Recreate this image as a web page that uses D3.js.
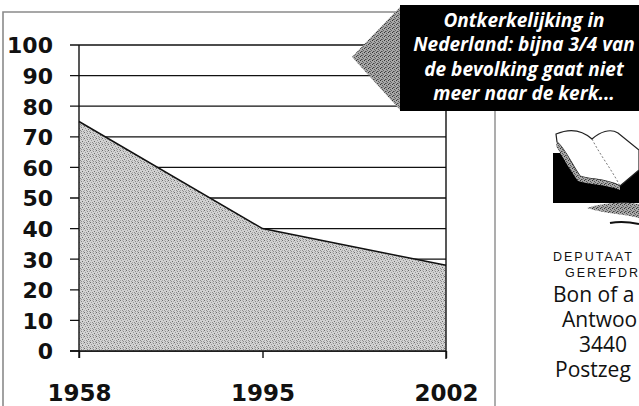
<!DOCTYPE html>
<html>
<head>
<meta charset="utf-8">
<script src="https://cdn.jsdelivr.net/npm/d3@7"></script>
<style>
  html, body { margin: 0; padding: 0; background: #fff; }
  svg { display: block; }
</style>
</head>
<body>
<svg id="chart" width="639" height="406"></svg>
<script>
// ---- data ----
const years = ["1958", "1995", "2002"];
const values = [75, 40, 28];
const yTicks = [0, 10, 20, 30, 40, 50, 60, 70, 80, 90, 100];
const calloutLines = ["Ontkerkelijking in", "Nederland: bijna 3/4 van", "de bevolking gaat niet", "meer naar de kerk..."];
const sideSmall = ["DEPUTAAT", "GEREFDR"];
const sideLarge = ["Bon of a", "Antwoo", "3440", "Postzeg"];

const svg = d3.select("#chart");
const defs = svg.append("defs");

// halftone patterns (fixed dot layout)
const p1 = defs.append("pattern").attr("id", "tone").attr("width", 6).attr("height", 6)
  .attr("patternUnits", "userSpaceOnUse");
p1.append("rect").attr("width", 6).attr("height", 6).attr("fill", "#d2d2d2");
[[0,0,"#6a6a6a"],[3,1,"#888"],[1,2,"#999"],[4,3,"#6a6a6a"],[2,4,"#8a8a8a"],[5,5,"#999"],[0,4,"#aaa"],[5,1,"#aaa"],[2,0,"#b0b0b0"],[3,5,"#909090"]].forEach(d =>
  p1.append("rect").attr("x", d[0]).attr("y", d[1]).attr("width", 1).attr("height", 1).attr("fill", d[2]));

const p2 = defs.append("pattern").attr("id", "tone2").attr("width", 4).attr("height", 4)
  .attr("patternUnits", "userSpaceOnUse");
p2.append("rect").attr("width", 4).attr("height", 4).attr("fill", "#a8a8a8");
[[0,0,"#333"],[2,1,"#555"],[1,3,"#444"],[3,2,"#666"],[2,3,"#777"]].forEach(d =>
  p2.append("rect").attr("x", d[0]).attr("y", d[1]).attr("width", 1).attr("height", 1).attr("fill", d[2]));

// ---- scales ----
const x = d3.scalePoint().domain(years).range([79, 446]);
const y = d3.scaleLinear().domain([0, 100]).range([351, 45]);

// outer frame
svg.append("path").attr("d", "M3,406 L3,12 L402,12")
  .attr("fill", "none").attr("stroke", "#8a8a8a").attr("stroke-width", 1.6);
// separator
svg.append("line").attr("x1", 495).attr("x2", 495).attr("y1", 108).attr("y2", 406)
  .attr("stroke", "#8a8a8a").attr("stroke-width", 1.4);

// gridlines
svg.append("g").selectAll("line").data(yTicks).join("line")
  .attr("x1", 70).attr("x2", x("2002"))
  .attr("y1", d => y(d)).attr("y2", d => y(d))
  .attr("stroke", "#111").attr("stroke-width", 1.3);

// area
const data = years.map((yr, i) => ({ yr, v: values[i] }));
svg.append("path").datum(data)
  .attr("d", d3.area().x(d => x(d.yr)).y0(y(0)).y1(d => y(d.v)))
  .attr("fill", "url(#tone)");
svg.append("path").datum(data)
  .attr("d", d3.line().x(d => x(d.yr)).y(d => y(d.v)))
  .attr("fill", "none").attr("stroke", "#111").attr("stroke-width", 1.5);
// baseline
svg.append("line").attr("x1", 70).attr("x2", x("2002")).attr("y1", y(0)).attr("y2", y(0))
  .attr("stroke", "#111").attr("stroke-width", 1.4);

// y axis
const yAxis = svg.append("g").attr("transform", `translate(${x("1958")},0)`)
  .call(d3.axisLeft(y).tickValues(yTicks).tickSize(9).tickPadding(17));
yAxis.select(".domain").remove();
yAxis.selectAll(".tick line").remove();
yAxis.selectAll("text")
  .attr("font-family", "DejaVu Sans").attr("font-weight", "bold").attr("font-size", 22)
  .attr("fill", "#111").attr("dy", "0.36em");
svg.append("line").attr("x1", x("1958")).attr("x2", x("1958")).attr("y1", y(100)).attr("y2", 358)
  .attr("stroke", "#111").attr("stroke-width", 1.4);
svg.append("line").attr("x1", x("2002")).attr("x2", x("2002")).attr("y1", y(100)).attr("y2", 359)
  .attr("stroke", "#111").attr("stroke-width", 1.4);

// x axis
const xAxis = svg.append("g").attr("transform", `translate(0,${y(0)})`)
  .call(d3.axisBottom(x).tickSize(7).tickPadding(27));
xAxis.select(".domain").remove();
xAxis.selectAll(".tick line").attr("stroke", "#111").attr("stroke-width", 1.4);
xAxis.selectAll("text")
  .attr("font-family", "DejaVu Sans").attr("font-weight", "bold").attr("font-size", 23)
  .attr("fill", "#111").attr("dy", "0.71em");

// callout
svg.append("path").attr("d", "M401,6 L352,57 L401,111 Z").attr("fill", "url(#tone2)");
svg.append("rect").attr("x", 400).attr("y", 5).attr("width", 239).attr("height", 106).attr("fill", "#000");
svg.append("g").selectAll("text").data(calloutLines).join("text")
  .attr("x", 524).attr("y", (d, i) => 27 + i * 24.4)
  .attr("text-anchor", "middle")
  .attr("font-family", "Open Sans").attr("font-weight", "bold").attr("font-style", "italic")
  .attr("font-size", 19).attr("fill", "#fff")
  .text(d => d);

// book logo
const logo = svg.append("g");
logo.append("rect").attr("x", 553).attr("y", 153).attr("width", 86).attr("height", 50).attr("fill", "#000");
logo.append("path")
  .attr("d", "M556,134 C570,128 582,130 592,139 C600,132 610,128 618,133 L639,150 L639,170 L620,186 C605,178 590,180 580,176 C572,165 566,150 557,142 Z")
  .attr("fill", "#fff").attr("stroke", "#222").attr("stroke-width", 1.2);
logo.append("path").attr("d", "M592,139 C600,155 612,170 620,186").attr("fill", "none")
  .attr("stroke", "#555").attr("stroke-width", 0.8).attr("stroke-dasharray", "2,2");
logo.append("path").attr("d", "M557,142 C566,150 572,165 580,176 C590,180 605,178 620,186 L620,190 C605,184 590,185 578,181 C570,170 562,156 556,146 Z")
  .attr("fill", "url(#tone2)");
logo.append("path").attr("d", "M587,208 C605,202 625,202 639,204 L639,218 C625,214 605,214 587,208 Z")
  .attr("fill", "url(#tone2)");
logo.append("path").attr("d", "M610,223 C620,221 630,222 639,224").attr("fill", "none")
  .attr("stroke", "#111").attr("stroke-width", 2);

// side text
svg.append("g").selectAll("text").data(sideSmall).join("text")
  .attr("x", (d, i) => [553, 565][i]).attr("y", (d, i) => 261 + i * 16)
  .attr("font-family", "Liberation Sans").attr("font-size", 12.5).attr("letter-spacing", 2.0)
  .attr("fill", "#111").text(d => d);
svg.append("g").selectAll("text").data(sideLarge).join("text")
  .attr("x", (d, i) => [553, 562, 579, 555][i]).attr("y", (d, i) => 302 + i * 25)
  .attr("font-family", "Open Sans").attr("font-size", 21)
  .attr("fill", "#111").text(d => d);
</script>
</body>
</html>
